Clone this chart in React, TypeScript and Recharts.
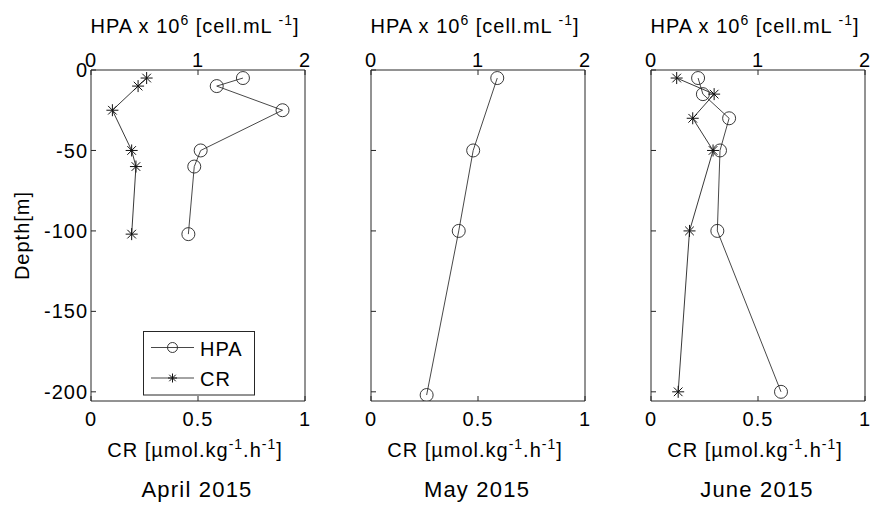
import React from 'react';
import { ScatterChart, Scatter, XAxis, YAxis, Legend } from 'recharts';

const FONT = '"Liberation Sans", Arial, Helvetica, sans-serif';
const INK = '#262626';

// Axes
const depthTicks = [0, -50, -100, -150, -200];
const depthDomain: [number, number] = [-205.7, 0];
const hpaTicks = [0, 1, 2];
const hpaDomain: [number, number] = [0, 2];
const crTicks = [0, 0.5, 1];
const crDomain: [number, number] = [0, 1];

// April 2015
const aprilDepths = [-5, -10, -25, -50, -60, -102];
const aprilHPA = [1.42, 1.175, 1.79, 1.025, 0.965, 0.91];
const aprilCR = [0.26, 0.22, 0.1, 0.19, 0.21, 0.19];

// May 2015
const mayDepths = [-5, -50, -100, -202];
const mayHPA = [1.18, 0.955, 0.82, 0.52];

// June 2015
const juneDepths = [-5, -15, -30, -50, -100, -200];
const juneHPA = [0.44, 0.485, 0.73, 0.645, 0.62, 1.215];
const juneCR = [0.12, 0.295, 0.195, 0.29, 0.18, 0.127];

const months = ['April 2015', 'May 2015', 'June 2015'];
const legendOrder = ['HPA', 'CR'];
const panelLefts = [91, 371, 651];

const toPoints = (vals: number[], depths: number[]) =>
  depths.map((d, i) => ({ x: vals[i], depth: d }));

const PLOT_W = 214;
const Y_AXIS_W = 91;
const CHART_W = Y_AXIS_W + PLOT_W + 5;
const CHART_H = 507;

const CircleMark = (p: any) => (
  <circle cx={p.cx} cy={p.cy} r={p.r ?? 6.5} fill="none" stroke="#222" strokeWidth={0.9} />
);

const StarMark = (p: any) => {
  const { cx, cy } = p;
  const a = p.a ?? 6;
  const d = a * 0.72;
  return (
    <path
      d={`M${cx - a},${cy}H${cx + a}M${cx},${cy - a}V${cy + a}M${cx - d},${cy - d}L${cx + d},${cy + d}M${cx - d},${cy + d}L${cx + d},${cy - d}`}
      stroke="#111"
      strokeWidth={1}
      fill="none"
    />
  );
};

const tickStyle = { fontSize: 20, fill: '#000', fontFamily: FONT, letterSpacing: 1 };

const renderLegend = (props: any) => {
  const payload = props.payload || [];
  const names = legendOrder.filter((n) => payload.some((e: any) => e.value === n));
  return (
    <svg width={112} height={65} style={{ display: 'block' }}>
      <rect x={0.5} y={0.5} width={111} height={63.5} fill="#fff" stroke={INK} strokeWidth={1} />
      {names.map((name: string, i: number) => {
        const cy = 16.5 + i * 30.5;
        return (
          <g key={name}>
            <line x1={8} x2={51} y1={cy} y2={cy} stroke="#333" strokeWidth={0.9} />
            {name === 'HPA' ? (
              <CircleMark cx={29.5} cy={cy} r={5} />
            ) : (
              <StarMark cx={29.5} cy={cy} a={4.5} />
            )}
            <text x={57} y={cy + 8} fontSize={20} fontFamily={FONT} letterSpacing={1} fill="#000">
              {name}
            </text>
          </g>
        );
      })}
    </svg>
  );
};

type PanelProps = {
  index: number;
  hpa: { x: number; depth: number }[];
  cr?: { x: number; depth: number }[];
  showYLabels: boolean;
  showLegend: boolean;
};

const Panel = ({ index, hpa, cr, showYLabels, showLegend }: PanelProps) => {
  const left = panelLefts[index] - Y_AXIS_W;
  return (
    <div style={{ position: 'absolute', left, top: 0, width: CHART_W, height: CHART_H }}>
      <ScatterChart width={CHART_W} height={CHART_H} margin={{ top: 0, right: 0, bottom: 0, left: 0 }}>
        <XAxis
          xAxisId="hpa"
          orientation="top"
          type="number"
          dataKey="x"
          domain={hpaDomain}
          ticks={hpaTicks}
          interval={0}
          allowDataOverflow
          height={70}
          tickSize={-5}
          tickMargin={8}
          axisLine={{ stroke: INK, strokeWidth: 1 }}
          tickLine={{ stroke: INK, strokeWidth: 1 }}
          tick={tickStyle}
        />
        <XAxis
          xAxisId="cr"
          orientation="bottom"
          type="number"
          dataKey="x"
          domain={crDomain}
          ticks={crTicks}
          interval={0}
          allowDataOverflow
          height={106}
          tickSize={-5}
          tickMargin={16}
          axisLine={{ stroke: INK, strokeWidth: 1 }}
          tickLine={{ stroke: INK, strokeWidth: 1 }}
          tick={tickStyle}
        />
        <YAxis
          yAxisId="d"
          orientation="left"
          type="number"
          dataKey="depth"
          domain={depthDomain}
          ticks={depthTicks}
          interval={0}
          allowDataOverflow
          width={Y_AXIS_W}
          tickSize={-5}
          tickMargin={8}
          axisLine={{ stroke: INK, strokeWidth: 1 }}
          tickLine={{ stroke: INK, strokeWidth: 1 }}
          tick={tickStyle}
          tickFormatter={(v: number) => (showYLabels ? String(v) : '')}
        />
        <YAxis
          yAxisId="r"
          orientation="right"
          type="number"
          dataKey="depth"
          domain={depthDomain}
          ticks={depthTicks}
          interval={0}
          allowDataOverflow
          width={5}
          tickSize={-5}
          tickMargin={2}
          axisLine={{ stroke: INK, strokeWidth: 1 }}
          tickLine={{ stroke: INK, strokeWidth: 1 }}
          tick={false}
        />
        <Scatter
          name="HPA"
          data={hpa}
          xAxisId="hpa"
          yAxisId="d"
          isAnimationActive={false}
          fill="#333"
          line={{ stroke: '#333', strokeWidth: 0.9 }}
          shape={CircleMark}
        />
        {cr && (
          <Scatter
            name="CR"
            data={cr}
            xAxisId="cr"
            yAxisId="d"
            isAnimationActive={false}
            fill="#222"
            line={{ stroke: '#222', strokeWidth: 0.9 }}
            shape={StarMark}
          />
        )}
        <Scatter
          name="axis-r"
          data={hpa}
          xAxisId="cr"
          yAxisId="r"
          isAnimationActive={false}
          legendType="none"
          shape={() => <g />}
        />
        {showLegend && (
          <Legend
            layout="vertical"
            align="center"
            verticalAlign="middle"
            content={renderLegend}
            wrapperStyle={{ position: 'absolute', left: 142.5 - left, top: 330.5, width: 112, height: 65 }}
          />
        )}
      </ScatterChart>
    </div>
  );
};

const Titles = () => (
  <svg
    width={871}
    height={507}
    style={{ position: 'absolute', left: 0, top: 0, pointerEvents: 'none' }}
    fontFamily={FONT}
    fill="#000"
  >
    {panelLefts.map((pl, i) => {
      const cx = pl + PLOT_W / 2 - 3;
      return (
        <g key={i}>
          <text x={cx} y={32.5} fontSize={20} letterSpacing={1} textAnchor="middle">
            <tspan>HPA x 10</tspan>
            <tspan dy={-8} fontSize={14}>6</tspan>
            <tspan dy={8}> [cell.mL </tspan>
            <tspan dy={-8} fontSize={14}>-1</tspan>
            <tspan dy={8}>]</tspan>
          </text>
          <text x={cx} y={456.7} fontSize={20} letterSpacing={1} textAnchor="middle">
            <tspan>CR [µmol.kg</tspan>
            <tspan dy={-8} fontSize={14}>-1</tspan>
            <tspan dy={8}>.h</tspan>
            <tspan dy={-8} fontSize={14}>-1</tspan>
            <tspan dy={8}>]</tspan>
          </text>
          <text x={pl + PLOT_W / 2 - 1} y={496.7} fontSize={22} letterSpacing={1.2} textAnchor="middle">
            {months[i]}
          </text>
        </g>
      );
    })}
    <text
      x={28.5}
      y={235.5}
      fontSize={20}
      letterSpacing={1}
      textAnchor="middle"
      transform="rotate(-90 28.5 235.5)"
    >
      Depth[m]
    </text>
  </svg>
);

export default function App() {
  return (
    <div
      style={{
        position: 'absolute',
        left: 0,
        top: 0,
        width: 871,
        height: 507,
        overflow: 'hidden',
        background: '#fff',
        fontFamily: FONT,
      }}
    >
      <Panel
        index={0}
        hpa={toPoints(aprilHPA, aprilDepths)}
        cr={toPoints(aprilCR, aprilDepths)}
        showYLabels
        showLegend
      />
      <Panel index={1} hpa={toPoints(mayHPA, mayDepths)} showYLabels={false} showLegend={false} />
      <Panel
        index={2}
        hpa={toPoints(juneHPA, juneDepths)}
        cr={toPoints(juneCR, juneDepths)}
        showYLabels={false}
        showLegend={false}
      />
      <Titles />
    </div>
  );
}
